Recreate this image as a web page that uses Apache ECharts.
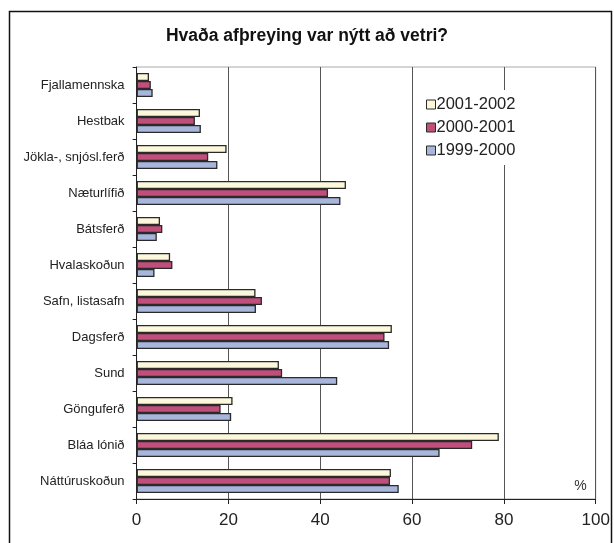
<!DOCTYPE html>
<html><head><meta charset="utf-8">
<script src="https://cdn.jsdelivr.net/npm/echarts@6/dist/echarts.min.js"></script>
<style>html,body{margin:0;padding:0;background:#fff}#c{width:614px;height:543px}</style>
</head><body><div id="c"></div>
<script>
const categories = ['Fjallamennska','Hestbak','Jökla-, snjósl.ferð','Næturlífið','Bátsferð','Hvalaskoðun','Safn, listasafn','Dagsferð','Sund','Gönguferð','Bláa lónið','Náttúruskoðun'];
const s2001_2002 = [2.7,13.8,19.6,45.6,5.1,7.3,25.9,55.6,31.0,20.9,78.9,55.4];
const s2000_2001 = [3.1,12.7,15.6,41.7,5.6,7.8,27.3,54.0,31.7,18.3,73.1,55.2];
const s1999_2000 = [3.5,14.0,17.6,44.4,4.4,3.9,26.0,55.0,43.7,20.6,66.0,57.1];
const xTicks = [0,20,40,60,80,100];
const font = 'Liberation Sans, Arial, Helvetica, sans-serif';
const chart = echarts.init(document.getElementById('c'));
const mk = (name, data, color) => ({
  name, type:'bar', data, barGap:'0%', barCategoryGap:'33%',
  itemStyle:{color, borderColor:'#2a2a2a', borderWidth:1.3}, animation:false
});
chart.setOption({
  animation:false,
  title:{text:'Hvaða afþreying var nýtt að vetri?', left:'center', top:22,
    textStyle:{fontFamily:font, fontSize:17.5, fontWeight:'bold', color:'#111'}},
  graphic:[{type:'rect', shape:{x:9.5,y:11.5,width:602,height:560}, style:{fill:null, stroke:'#111', lineWidth:1.5}, z:-1}],
  legend:{orient:'vertical', left:422, top:90, itemGap:6, itemWidth:9, itemHeight:9, icon:'rect',
    backgroundColor:'#fff', padding:[6,8,6,4],
    data:['2001-2002','2000-2001','1999-2000'],
    textStyle:{fontFamily:font, fontSize:16.5, color:'#222', padding:[0,0,0,-4]},
    itemStyle:{borderColor:'#2a2a2a', borderWidth:1}},
  grid:{left:136.6, right:18.3, top:67, bottom:44, show:true, borderColor:'#aaa', borderWidth:1},
  xAxis:{type:'value', min:0, max:100, interval:20,
    axisLine:{show:true, lineStyle:{color:'#222'}},
    axisTick:{show:true, length:5, lineStyle:{color:'#222'}},
    splitLine:{show:true, lineStyle:{color:'#555'}},
    axisLabel:{fontFamily:font, fontSize:17, color:'#222', margin:13,
      formatter:v=>xTicks.includes(v)?String(v):''},
    name:'%', nameLocation:'end', nameGap:0,
    nameTextStyle:{fontFamily:font, fontSize:14, color:'#333', align:'right', verticalAlign:'bottom', padding:[0,9,6,0]}},
  yAxis:{type:'category', data:categories, inverse:true,
    axisLine:{show:true, lineStyle:{color:'#222'}},
    axisTick:{show:true, length:4, lineStyle:{color:'#222'}},
    axisLabel:{fontFamily:font, fontSize:13, color:'#222', margin:12}},
  series:[mk('2001-2002', s2001_2002, '#fdf8dc'), mk('2000-2001', s2000_2001, '#c14f7b'), mk('1999-2000', s1999_2000, '#a8b6dc')]
});
</script></body></html>
